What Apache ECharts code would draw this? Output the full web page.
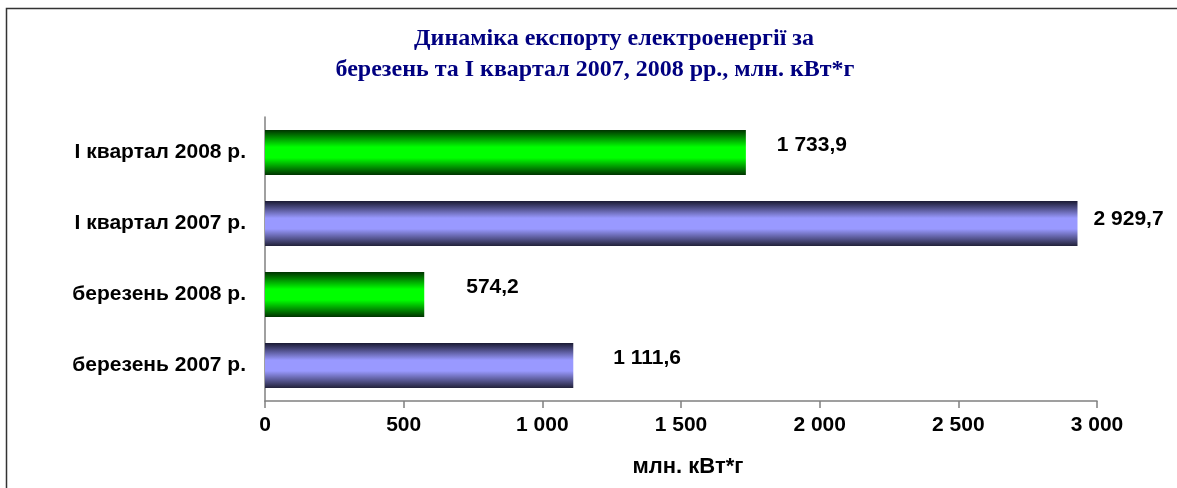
<!DOCTYPE html>
<html lang="uk">
<head>
<meta charset="UTF-8">
<title>Динаміка експорту електроенергії</title>
<script src="https://cdn.jsdelivr.net/npm/echarts@6.0.0/dist/echarts.min.js"></script>
<style>
  html, body { margin: 0; padding: 0; width: 100%; height: 100%; background: #fff; }
  #chart { width: 1177px; height: 488px; }
</style>
</head>
<body>
<div id="chart"></div>
<script>
// bottom to top, as ECharts draws a category y axis
var categories = ['березень 2007 р.', 'березень 2008 р.', 'І квартал 2007 р.', 'І квартал 2008 р.'];
var values = [1111.6, 574.2, 2929.7, 1733.9];
var years = [2007, 2008, 2007, 2008];
var xTicks = [0, 500, 1000, 1500, 2000, 2500, 3000];

var chart = echarts.init(document.getElementById('chart'));

function fmt(v, dec) {
  var s = dec ? v.toFixed(dec) : String(Math.round(v));
  var parts = s.split('.');
  parts[0] = parts[0].replace(/\B(?=(\d{3})+(?!\d))/g, ' ');
  return parts.join(',');
}

function grad(dark, light, dark2) {
  return new echarts.graphic.LinearGradient(0, 0, 0, 1, [
    { offset: 0, color: dark },
    { offset: 0.38, color: light },
    { offset: 0.62, color: light },
    { offset: 1, color: dark2 }
  ]);
}
var green = grad('#003300', '#00ff00', '#003300');
var violet = grad('#1a1a33', '#9999ff', '#22223a');

// label nudges (distance from bar end, vertical shift)
var labelDist = [40, 42, 16, 31];
var labelDy = [-7, -7, -4, -7];

var font = 'Liberation Sans, Arial, sans-serif';
var serif = 'Liberation Serif, Times New Roman, serif';

chart.setOption({
  animation: false,
  title: [
    {
      text: 'Динаміка експорту електроенергії за',
      left: 609, top: 22, textAlign: 'center',
      textStyle: { fontFamily: serif, fontWeight: 'bold', fontSize: 24, color: '#000080' }
    },
    {
      text: 'березень та І квартал 2007, 2008 рр., млн. кВт*г',
      left: 590, top: 53, textAlign: 'center',
      textStyle: { fontFamily: serif, fontWeight: 'bold', fontSize: 24, color: '#000080' }
    }
  ],
  graphic: [{
    type: 'rect',
    shape: { x: 6.5, y: 8.5, width: 1300, height: 600 },
    style: { fill: 'none', stroke: '#333', lineWidth: 1.5 },
    silent: true
  }],
  grid: { left: 265, right: 80, top: 117, bottom: 87 },
  xAxis: {
    type: 'value',
    min: xTicks[0], max: xTicks[xTicks.length - 1], interval: 500,
    axisLine: { show: true, lineStyle: { color: '#808080', width: 1.5 } },
    axisTick: { show: true, length: 7, lineStyle: { color: '#808080', width: 1.5 } },
    splitLine: { show: false },
    axisLabel: { margin: 14, fontFamily: font, fontWeight: 'bold', fontSize: 21, color: '#000',
      formatter: function (v) { return fmt(v); } },
    name: 'млн. кВт*г',
    nameLocation: 'middle',
    nameGap: 55,
    nameTextStyle: { fontFamily: font, fontWeight: 'bold', fontSize: 22, color: '#000', padding: [0, 0, 0, 14] }
  },
  yAxis: {
    type: 'category',
    data: categories,
    axisLine: { show: true, lineStyle: { color: '#808080', width: 1.5 } },
    axisTick: { show: false },
    axisLabel: { margin: 19, fontFamily: font, fontWeight: 'bold', fontSize: 21, color: '#000' }
  },
  series: [{
    type: 'bar',
    barWidth: 45,
    data: values.map(function (v, i) {
      return {
        value: v,
        itemStyle: { color: years[i] === 2008 ? green : violet },
        label: { distance: labelDist[i], offset: [0, labelDy[i]] }
      };
    }),
    label: {
      show: true,
      position: 'right',
      fontFamily: font, fontWeight: 'bold', fontSize: 21, color: '#000',
      formatter: function (p) { return fmt(p.value, 1); }
    }
  }]
});
</script>
</body>
</html>
